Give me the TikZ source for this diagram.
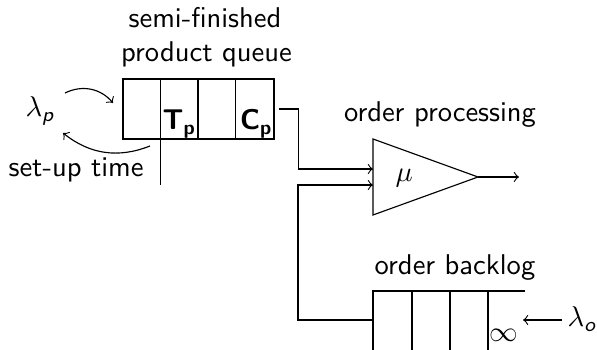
\documentclass[tikz,border=0pt]{standalone}
\usepackage{amsmath}
\renewcommand{\familydefault}{\sfdefault}
\newcommand{\sfit}[1]{\text{\sffamily\itshape #1}}
\begin{document}
\begin{tikzpicture}[x=0.35pt,y=-0.35pt,>=to,line width=0.4pt,
  every node/.style={inner sep=0pt,font=\sffamily},
  lbl/.style={anchor=base},
  lblw/.style={anchor=base west},
  queuebox/.style={draw,minimum width=52.85pt,minimum height=21pt}]
\useasboundingbox (0,0) rectangle (597,350);

% semi-finished product queue
\node[queuebox] (sfq) at (198.5,109) {};
\foreach \d in {38,75.5,113}
  \draw ([xshift=\d*0.35pt]sfq.north west) -- ([xshift=\d*0.35pt]sfq.south west);
\draw ([xshift=38*0.35pt]sfq.south west) -- ++(0,45);
\node[lblw] (tp) at (162,130) {\textbf{T}$_{\textbf{p}}$};
\node[lblw] (cp) at (239.5,130) {\textbf{C}$_{\textbf{p}}$};
\node[lbl] (sfl1) at (205,28) {semi-finished};
\node[lbl] (sfl2) at (206.5,61.5) {product queue};

% arrival and set-up time
\node[lblw] (lp) at (25,117) {$\lambda_{\sfit{p}}$};
\node[lblw] (sut) at (8,177) {set-up time};
\coordinate (a1s) at (65,93);
\coordinate (a1e) at (113,103);
\coordinate (a2s) at (150,146);
\coordinate (a2e) at (63,133);
\draw[->] (a1s) to[bend left=38] (a1e);
\draw[->] (a2s) to[bend left=30] (a2e);

% order processing
\coordinate (tl) at (373,139);
\coordinate (tip) at (478,177);
\coordinate (bl) at (373,215);
\coordinate (in1) at (373,169);
\coordinate (in2) at (373,185);
\draw (tl) -- (tip) -- (bl) -- cycle;
\node[lblw] (mu) at (395,181.5) {$\mu$};
\node[lbl] (opl) at (440,122) {order processing};
\coordinate (out) at (519,177);
\draw[->] (tip) -- (out);

\draw[->] ([xshift=4*0.35pt]sfq.east) -- ++(20,0) |- (in1);

% order backlog
\coordinate (bqtl) at (373,291);
\coordinate (bqtr) at (525,291);
\coordinate (bqw) at (373,320);
\draw (bqtr) -- (bqtl) -- (373,350);
\foreach \xx in {412,450,488}
  \draw (\xx,291) -- (\xx,350);
\node[lbl] (obl) at (455,275) {order backlog};
\node[lblw] (inf) at (488.5,342) {$\infty$};
\draw[->] (bqw) -- ++(-75,0) |- (in2);

\node[lblw] (lo) at (567,327) {$\lambda_{\sfit{o}}$};
\coordinate (aos) at (562,320);
\coordinate (aoe) at (523,320);
\draw[->] (aos) -- (aoe);
\end{tikzpicture}
\end{document}
